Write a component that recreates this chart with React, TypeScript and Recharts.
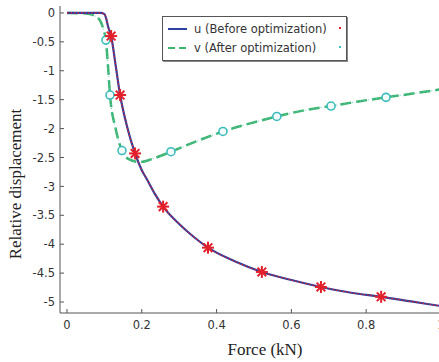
import { ComposedChart, Line, Scatter, XAxis, YAxis } from 'recharts';

// curve before optimization (u)
const uX = [0, 0.05, 0.09, 0.1, 0.105, 0.11, 0.118, 0.13, 0.142, 0.16, 0.182, 0.2, 0.214, 0.235, 0.257, 0.3, 0.34, 0.377, 0.45, 0.521, 0.6, 0.679, 0.76, 0.84, 0.92, 1.0];
const uY = [0, 0, 0, -0.02, -0.1, -0.24, -0.4, -0.9, -1.42, -1.95, -2.43, -2.72, -2.88, -3.13, -3.35, -3.65, -3.88, -4.06, -4.3, -4.48, -4.62, -4.74, -4.84, -4.91, -4.99, -5.07];
const uMarkX = [0.118, 0.142, 0.182, 0.257, 0.377, 0.521, 0.679, 0.84];
const uMarkY = [-0.4, -1.42, -2.43, -3.35, -4.06, -4.48, -4.74, -4.91];

// curve after optimization (v)
const vX = [0, 0.05, 0.075, 0.09, 0.098, 0.104, 0.11, 0.115, 0.13, 0.147, 0.165, 0.195, 0.23, 0.278, 0.35, 0.417, 0.49, 0.561, 0.63, 0.706, 0.78, 0.853, 0.93, 1.0];
const vY = [0, -0.01, -0.05, -0.15, -0.3, -0.47, -0.95, -1.42, -2.0, -2.38, -2.53, -2.58, -2.52, -2.4, -2.21, -2.05, -1.91, -1.79, -1.69, -1.61, -1.53, -1.46, -1.39, -1.32];
const vMarkX = [0.104, 0.115, 0.147, 0.278, 0.417, 0.561, 0.706, 0.853];
const vMarkY = [-0.47, -1.42, -2.38, -2.4, -2.05, -1.79, -1.61, -1.46];

const xTicks = [0, 0.2, 0.4, 0.6, 0.8, 1];
const yTicks = [0, -0.5, -1, -1.5, -2, -2.5, -3, -3.5, -4, -4.5, -5];

const legendItems = [
  { label: 'u (Before optimization)', color: '#2f3f9f', dash: '', dot: '#e0202a' },
  { label: 'v (After optimization)', color: '#3cb46e', dash: '7 4', dot: '#3cc0c0' },
];

const zip = (xs: number[], ys: number[]) => xs.map((x, i) => ({ x, y: ys[i] }));
const uData = zip(uX, uY);
const vData = zip(vX, vY);
const uMarks = zip(uMarkX, uMarkY);
const vMarks = zip(vMarkX, vMarkY);

const AXIS = '#555';
const TICK_FONT = { fontFamily: 'DejaVu Sans', fontSize: 11.5, fill: '#333' };

const fmt = (v: number) => String(v);

function YTick(props: any) {
  const { x, y, payload } = props;
  return (
    <g>
      <line x1={x} x2={x + 4} y1={y} y2={y} stroke={AXIS} />
      <text x={x - 5} y={y} dy="0.36em" textAnchor="end" {...TICK_FONT}>{fmt(payload.value)}</text>
    </g>
  );
}

function XTick(props: any) {
  const { x, y, payload } = props;
  return (
    <g>
      <line x1={x} x2={x} y1={y} y2={y - 4} stroke={AXIS} />
      <text x={x} y={y + 12} dy="0.36em" textAnchor="middle" {...TICK_FONT}>{fmt(payload.value)}</text>
    </g>
  );
}

function TopTick(props: any) {
  const { x, y } = props;
  return <line x1={x} x2={x} y1={y} y2={y + 4} stroke={AXIS} />;
}

function Star(props: any) {
  const { cx, cy } = props;
  const r = 6;
  const d = r * 0.72;
  return (
    <g stroke="#e3202a" strokeWidth={2}>
      <line x1={cx - r} x2={cx + r} y1={cy} y2={cy} />
      <line x1={cx} x2={cx} y1={cy - r} y2={cy + r} />
      <line x1={cx - d} x2={cx + d} y1={cy - d} y2={cy + d} />
      <line x1={cx - d} x2={cx + d} y1={cy + d} y2={cy - d} />
    </g>
  );
}

function Ring(props: any) {
  const { cx, cy } = props;
  return <circle cx={cx} cy={cy} r={4} fill="#f4fbfb" stroke="#3cbcbc" strokeWidth={1.6} />;
}

export default function App() {
  return (
    <div style={{ position: 'absolute', left: 0, top: 0, width: 439, height: 362, overflow: 'hidden', background: '#fff' }}>
      <ComposedChart width={450} height={362} margin={{ top: 6, right: 9, left: 0, bottom: 0 }}>
        <XAxis xAxisId="top" orientation="top" type="number" dataKey="x" domain={[-0.0187, 1]} allowDataOverflow
          ticks={xTicks} tick={<TopTick />} tickLine={false} tickSize={0} tickMargin={0} height={0} stroke={AXIS} />
        <XAxis type="number" dataKey="x" domain={[-0.0187, 1]} allowDataOverflow ticks={xTicks}
          tick={<XTick />} tickLine={false} tickSize={0} tickMargin={0} height={49} stroke={AXIS} />
        <YAxis type="number" dataKey="y" domain={[-5.19, 0.12]} allowDataOverflow ticks={yTicks}
          tick={<YTick />} tickLine={false} tickSize={0} tickMargin={0} width={60} stroke={AXIS} />
        <Line data={vData} dataKey="y" type="monotone" stroke="#3cb46e" strokeWidth={2.5} strokeDasharray="11 5" dot={false} isAnimationActive={false} />
        <Line data={vData} dataKey="y" type="monotone" stroke="#5fd0d0" strokeWidth={1} strokeDasharray="1 3" dot={false} isAnimationActive={false} />
        <Line data={uData} dataKey="y" type="monotone" stroke="#2f3f9f" strokeWidth={2.2} dot={false} isAnimationActive={false} />
        <Line data={uData} dataKey="y" type="monotone" stroke="#e0202a" strokeWidth={1.2} strokeDasharray="1.5 2" dot={false} isAnimationActive={false} />
        <Scatter data={vMarks} dataKey="y" shape={<Ring />} isAnimationActive={false} />
        <Scatter data={uMarks} dataKey="y" shape={<Star />} isAnimationActive={false} />
      </ComposedChart>

      <div style={{
        position: 'absolute', left: 162, top: 16, width: 185, height: 45, background: '#fff',
        border: '1px solid #555', boxShadow: '1px 1px 0 #888', boxSizing: 'border-box',
        fontFamily: 'DejaVu Sans', fontSize: 11.5, color: '#333',
      }}>
        {legendItems.map((it, i) => (
          <div key={it.label} style={{ position: 'absolute', left: 4, top: 4 + i * 19, height: 16, display: 'flex', alignItems: 'center', whiteSpace: 'nowrap' }}>
            <svg width={24} height={16}>
              <line x1={1} x2={20} y1={8} y2={8} stroke={it.color} strokeWidth={2} strokeDasharray={it.dash} />
            </svg>
            <span style={{ marginLeft: 3 }}>{it.label}</span>
            <span style={{ position: 'absolute', left: 172, top: 6, width: 2, height: 2, background: it.dot }} />
          </div>
        ))}
      </div>

      <div style={{ position: 'absolute', left: 0, top: 0, fontFamily: 'Liberation Serif', fontSize: 17, color: '#222' }}>
        <div style={{ position: 'absolute', left: 265, top: 340, transform: 'translateX(-50%)', whiteSpace: 'nowrap' }}>Force (kN)</div>
        <div style={{ position: 'absolute', left: 16, top: 184, transform: 'translate(-50%, -50%) rotate(-90deg)', whiteSpace: 'nowrap' }}>Relative displacement</div>
      </div>
    </div>
  );
}
